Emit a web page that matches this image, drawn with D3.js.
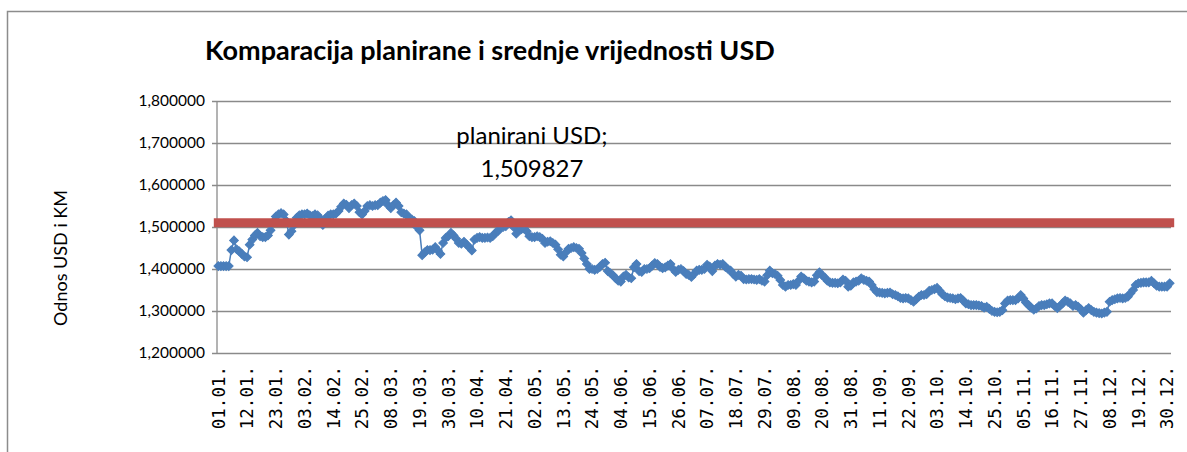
<!DOCTYPE html>
<html>
<head>
<meta charset="utf-8">
<script src="https://cdn.jsdelivr.net/npm/d3@7"></script>
<style>
  body { margin: 0; background: #fff; }
  text { font-family: Lato, "Open Sans", sans-serif; fill: #000; }
</style>
</head>
<body>
<div id="chart"></div>
<script>
// tick labels, one every 11 days
var tickLabels = ['01.01.', '12.01.', '23.01.', '03.02.', '14.02.', '25.02.', '08.03.', '19.03.', '30.03.',
    '10.04.', '21.04.', '02.05.', '13.05.', '24.05.', '04.06.', '15.06.', '26.06.', '07.07.', '18.07.',
    '29.07.', '09.08.', '20.08.', '31.08.', '11.09.', '22.09.', '03.10.', '14.10.', '25.10.', '05.11.',
    '16.11.', '27.11.', '08.12.', '19.12.', '30.12.'];
var labelStep = 11;

// daily USD/KM ratio, rows start at each tick label
var usdValues = [
    1.407, 1.407, 1.407, 1.407, 1.407, 1.445, 1.468, 1.447, 1.442, 1.436, 1.430,
    1.428, 1.458, 1.470, 1.480, 1.486, 1.478, 1.476, 1.476, 1.480, 1.492, 1.512,
    1.525, 1.530, 1.533, 1.530, 1.515, 1.482, 1.490, 1.505, 1.522, 1.528, 1.530,
    1.530, 1.532, 1.528, 1.526, 1.530, 1.528, 1.520, 1.505, 1.520, 1.527, 1.530,
    1.530, 1.532, 1.538, 1.548, 1.556, 1.553, 1.545, 1.552, 1.556, 1.550, 1.535,
    1.530, 1.538, 1.550, 1.552, 1.550, 1.552, 1.552, 1.558, 1.562, 1.564, 1.552,
    1.545, 1.552, 1.558, 1.550, 1.535, 1.532, 1.530, 1.522, 1.518, 1.514, 1.500,
    1.492, 1.433, 1.440, 1.445, 1.445, 1.446, 1.452, 1.444, 1.436, 1.462, 1.474,
    1.478, 1.486, 1.480, 1.472, 1.462, 1.460, 1.465, 1.458, 1.452, 1.444, 1.470,
    1.474, 1.476, 1.474, 1.474, 1.475, 1.474, 1.478, 1.486, 1.490, 1.500, 1.500,
    1.502, 1.512, 1.516, 1.500, 1.484, 1.494, 1.495, 1.496, 1.490, 1.478, 1.476,
    1.476, 1.478, 1.476, 1.472, 1.462, 1.465, 1.466, 1.462, 1.458, 1.447, 1.434,
    1.430, 1.440, 1.448, 1.450, 1.452, 1.450, 1.448, 1.438, 1.425, 1.412, 1.400,
    1.400, 1.398, 1.400, 1.405, 1.412, 1.415, 1.395, 1.390, 1.385, 1.378, 1.372,
    1.370, 1.382, 1.386, 1.380, 1.378, 1.404, 1.412, 1.395, 1.393, 1.400, 1.400,
    1.402, 1.408, 1.414, 1.412, 1.405, 1.402, 1.404, 1.408, 1.412, 1.400, 1.393,
    1.398, 1.400, 1.395, 1.388, 1.386, 1.381, 1.388, 1.396, 1.398, 1.398, 1.400,
    1.410, 1.406, 1.395, 1.408, 1.412, 1.410, 1.412, 1.405, 1.400, 1.396, 1.388,
    1.382, 1.386, 1.384, 1.376, 1.375, 1.376, 1.376, 1.375, 1.374, 1.376, 1.372,
    1.370, 1.385, 1.396, 1.390, 1.388, 1.384, 1.374, 1.362, 1.358, 1.362, 1.362,
    1.364, 1.362, 1.372, 1.382, 1.378, 1.372, 1.370, 1.368, 1.370, 1.385, 1.392,
    1.385, 1.380, 1.372, 1.368, 1.367, 1.367, 1.366, 1.368, 1.375, 1.372, 1.358,
    1.360, 1.368, 1.370, 1.372, 1.378, 1.374, 1.372, 1.370, 1.362, 1.352, 1.345,
    1.344, 1.343, 1.342, 1.343, 1.344, 1.340, 1.338, 1.335, 1.331, 1.330, 1.331,
    1.330, 1.326, 1.322, 1.328, 1.334, 1.338, 1.338, 1.340, 1.348, 1.350, 1.352,
    1.355, 1.348, 1.340, 1.335, 1.332, 1.331, 1.330, 1.328, 1.330, 1.331, 1.325,
    1.318, 1.316, 1.314, 1.314, 1.314, 1.313, 1.312, 1.308, 1.310, 1.305, 1.300,
    1.298, 1.297, 1.298, 1.302, 1.318, 1.325, 1.326, 1.326, 1.326, 1.330, 1.338,
    1.330, 1.320, 1.314, 1.308, 1.303, 1.306, 1.312, 1.314, 1.314, 1.316, 1.318,
    1.318, 1.312, 1.307, 1.312, 1.318, 1.325, 1.322, 1.318, 1.312, 1.314, 1.310,
    1.304, 1.296, 1.302, 1.307, 1.302, 1.298, 1.296, 1.295, 1.294, 1.296, 1.298,
    1.322, 1.326, 1.328, 1.330, 1.331, 1.330, 1.331, 1.334, 1.342, 1.350, 1.362,
    1.366, 1.367, 1.368, 1.368, 1.368, 1.372, 1.366, 1.360, 1.358, 1.358, 1.358,
    1.358, 1.366
];

var plannedUsd = 1.509827;
var plannedName = 'planirani USD';
var yTicks = [1.2, 1.3, 1.4, 1.5, 1.6, 1.7, 1.8];

var chartTitle = 'Komparacija planirane i srednje vrijednosti USD';
var yTitle = 'Odnos USD i KM';

var W = 1187, H = 452;
var m = {top: 101, right: 16, bottom: 99, left: 217};

var svg = d3.select('#chart').append('svg')
    .attr('width', W)
    .attr('height', H);

svg.append('rect')
    .attr('width', W).attr('height', H)
    .attr('fill', '#fff');

// chart area border (cropped on the right/bottom)
svg.append('rect')
    .attr('x', 7.5).attr('y', 11.5)
    .attr('width', W + 20).attr('height', H + 20)
    .attr('fill', 'none')
    .attr('stroke', '#8c8c8c')
    .attr('stroke-width', 1.5);

var x = d3.scaleBand()
    .domain(d3.range(usdValues.length))
    .range([m.left, W - m.right]);

var cx = function(i) { return x(i) + x.bandwidth() / 2; };

var y = d3.scaleLinear()
    .domain([1.2, 1.8])
    .range([H - m.bottom, m.top]);

var fmt = function(v) { return d3.format('.6f')(v).replace('.', ','); };

// gridlines + y axis
var yAxis = d3.axisLeft(y)
    .tickValues(yTicks)
    .tickSize(-(W - m.right - m.left) - 5)
    .tickPadding(7)
    .tickFormat(fmt);

var gy = svg.append('g')
    .attr('transform', 'translate(' + (m.left - 5) + ',0)')
    .call(yAxis);

gy.select('.domain').remove();
gy.selectAll('.tick line')
    .attr('stroke', '#8a8a8a')
    .attr('stroke-width', 1.3);
gy.selectAll('.tick text')
    .style('font-family', 'Lato, sans-serif')
    .style('font-size', '15.5px')
    .attr('fill', '#000');

// axis lines
svg.append('line')
    .attr('x1', m.left).attr('x2', m.left)
    .attr('y1', m.top).attr('y2', H - m.bottom)
    .attr('stroke', '#8a8a8a').attr('stroke-width', 1.3);

// x labels
svg.append('g').selectAll('text')
    .data(tickLabels)
    .enter().append('text')
    .attr('transform', function(d, k) {
        return 'translate(' + cx(k * labelStep) + ',' + (H - m.bottom + 13) + ') rotate(-90)';
    })
    .attr('text-anchor', 'end')
    .attr('dy', '0.36em')
    .style('font-family', '"DejaVu Sans Mono", monospace')
    .style('font-size', '17.5px')
    .text(function(d) { return d; });

// blue series
var line = d3.line()
    .x(function(d, i) { return cx(i); })
    .y(function(d) { return y(d); });

svg.append('path')
    .datum(usdValues)
    .attr('d', line)
    .attr('fill', 'none')
    .attr('stroke', '#4a7ebb')
    .attr('stroke-width', 1.5);

var diamond = d3.symbol().type(d3.symbolSquare).size(38);

svg.append('g').selectAll('path')
    .data(usdValues)
    .enter().append('path')
    .attr('d', diamond)
    .attr('transform', function(d, i) {
        return 'translate(' + cx(i) + ',' + y(d) + ') rotate(45)';
    })
    .attr('fill', '#4a7ebb')
    .attr('stroke', '#4a7ebb')
    .attr('stroke-width', 1);

// planned value line
var planned = usdValues.map(function() { return plannedUsd; });

svg.append('path')
    .datum(planned)
    .attr('d', line)
    .attr('fill', 'none')
    .attr('stroke', '#c0504d')
    .attr('stroke-width', 9)
    .attr('stroke-linecap', 'square');

// data label of planned line
var lbl = svg.append('text')
    .attr('x', cx(120))
    .attr('text-anchor', 'middle')
    .style('font-size', '24px');
lbl.append('tspan').attr('x', cx(120)).attr('y', 144).text(plannedName + ';');
lbl.append('tspan').attr('x', cx(120)).attr('y', 177).text(fmt(plannedUsd));

// titles
svg.append('text')
    .attr('x', 205)
    .attr('y', 60)
    .style('font-size', '27px')
    .style('font-weight', 'bold')
    .text(chartTitle);

svg.append('text')
    .attr('transform', 'translate(67,258) rotate(-90)')
    .attr('text-anchor', 'middle')
    .style('font-size', '18px')
    .text(yTitle);
</script>
</body>
</html>
